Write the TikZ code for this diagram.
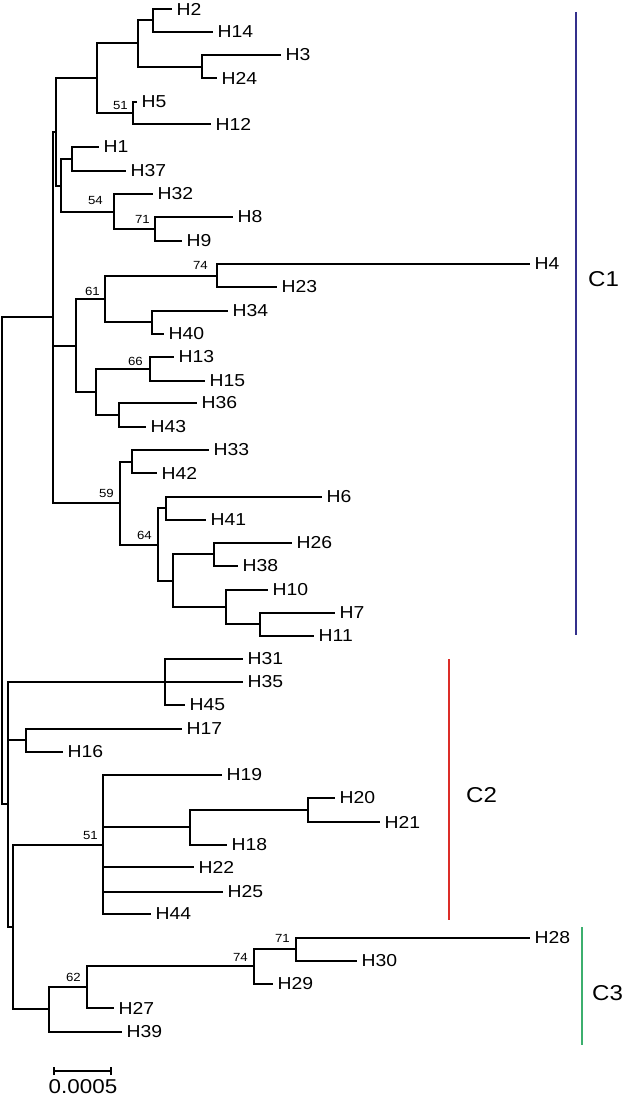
\documentclass[tikz,border=0pt]{standalone}
\usepackage{fontspec}
\newfontfamily\labfont[FakeStretch=1.12]{Liberation Sans}
\definecolor{cone}{RGB}{52,48,140}
\definecolor{ctwo}{RGB}{220,45,40}
\definecolor{cthree}{RGB}{60,175,110}
\tikzset{
  br/.style={line width=2pt, line join=miter},
  leaf/.style={anchor=west, inner xsep=4.5pt, inner ysep=0pt, font=\labfont\fontsize{17.3}{18}\selectfont},
  boot/.style={anchor=south east, inner sep=0pt, font=\labfont\fontsize{11.8}{12}\selectfont},
  clade/.style={anchor=west, inner sep=0pt, font=\labfont\fontsize{21.5}{22}\selectfont},
  cbar/.style={line width=2pt}
}
\begin{document}
\begin{tikzpicture}[x=1pt,y=-1pt]
\useasboundingbox (0,0) rectangle (622,1097);
% internal nodes
\coordinate (r) at (2,560);
\coordinate (C) at (53,317);
\coordinate (B) at (56,132);
\coordinate (A) at (97,78);
\coordinate (A1) at (138,43);
\coordinate (na) at (153,20);
\coordinate (nb) at (202,67);
\coordinate (A2) at (133,113);
\coordinate (I) at (61,186);
\coordinate (J) at (72,159);
\coordinate (K) at (114,212);
\coordinate (L) at (155,229);
\coordinate (F) at (76,346);
\coordinate (M) at (105,299);
\coordinate (O) at (217,276);
\coordinate (P) at (152,322);
\coordinate (N) at (96,392);
\coordinate (Q) at (150,369);
\coordinate (R) at (119,415);
\coordinate (G) at (120,503);
\coordinate (S) at (132,462);
\coordinate (T) at (158,545);
\coordinate (U) at (166,508);
\coordinate (V) at (173,581);
\coordinate (W) at (214,554);
\coordinate (X) at (226,607);
\coordinate (Y) at (260,624);
\coordinate (D) at (8,804);
\coordinate (Z) at (165,682);
\coordinate (AA) at (26,740);
\coordinate (E) at (13,927);
\coordinate (BB) at (103,845);
\coordinate (DD) at (190,827);
\coordinate (EE) at (308,810);
\coordinate (CC) at (49,1009);
\coordinate (FF) at (87,987);
\coordinate (GG) at (254,966);
\coordinate (HH) at (296,949);
% leaves
\node[leaf] (h2) at (172,9) {H2};
\node[leaf] (h14) at (213,32) {H14};
\node[leaf] (h3) at (281,55) {H3};
\node[leaf] (h24) at (217,78) {H24};
\node[leaf] (h5) at (137,102) {H5};
\node[leaf] (h12) at (211,124) {H12};
\node[leaf] (h1) at (99,147) {H1};
\node[leaf] (h37) at (126,171) {H37};
\node[leaf] (h32) at (153,194) {H32};
\node[leaf] (h8) at (233,217) {H8};
\node[leaf] (h9) at (182,241) {H9};
\node[leaf] (h4) at (530,264) {H4};
\node[leaf] (h23) at (277,287) {H23};
\node[leaf] (h34) at (228,311) {H34};
\node[leaf] (h40) at (164,334) {H40};
\node[leaf] (h13) at (174,357) {H13};
\node[leaf] (h15) at (205,381) {H15};
\node[leaf] (h36) at (197,403) {H36};
\node[leaf] (h43) at (146,427) {H43};
\node[leaf] (h33) at (209,450) {H33};
\node[leaf] (h42) at (157,473) {H42};
\node[leaf] (h6) at (322,497) {H6};
\node[leaf] (h41) at (206,520) {H41};
\node[leaf] (h26) at (292,543) {H26};
\node[leaf] (h38) at (238,566) {H38};
\node[leaf] (h10) at (268,590) {H10};
\node[leaf] (h7) at (335,613) {H7};
\node[leaf] (h11) at (314,636) {H11};
\node[leaf] (h31) at (243,659) {H31};
\node[leaf] (h35) at (243,682) {H35};
\node[leaf] (h45) at (185,705) {H45};
\node[leaf] (h17) at (182,729) {H17};
\node[leaf] (h16) at (63,752) {H16};
\node[leaf] (h19) at (222,775) {H19};
\node[leaf] (h20) at (335,798) {H20};
\node[leaf] (h21) at (380,822) {H21};
\node[leaf] (h18) at (227,845) {H18};
\node[leaf] (h22) at (194,867) {H22};
\node[leaf] (h25) at (223,892) {H25};
\node[leaf] (h44) at (151,914) {H44};
\node[leaf] (h28) at (530,938) {H28};
\node[leaf] (h30) at (357,961) {H30};
\node[leaf] (h29) at (273,984) {H29};
\node[leaf] (h27) at (114,1008) {H27};
\node[leaf] (h39) at (122,1032) {H39};
% branches
\draw[br] (r) |- (C);
\draw[br] (r) |- (D);
\draw[br] (C) |- (B);
\draw[br] (C) |- (F);
\draw[br] (C) |- (G);
\draw[br] (B) |- (A);
\draw[br] (B) |- (I);
\draw[br] (A) |- (A1);
\draw[br] (A) |- (A2);
\draw[br] (A1) |- (na);
\draw[br] (A1) |- (nb);
\draw[br] (na) |- (h2.west);
\draw[br] (na) |- (h14.west);
\draw[br] (nb) |- (h3.west);
\draw[br] (nb) |- (h24.west);
\draw[br] (A2) |- (h5.west);
\draw[br] (A2) |- (h12.west);
\draw[br] (I) |- (J);
\draw[br] (I) |- (K);
\draw[br] (J) |- (h1.west);
\draw[br] (J) |- (h37.west);
\draw[br] (K) |- (h32.west);
\draw[br] (K) |- (L);
\draw[br] (L) |- (h8.west);
\draw[br] (L) |- (h9.west);
\draw[br] (F) |- (M);
\draw[br] (F) |- (N);
\draw[br] (M) |- (O);
\draw[br] (M) |- (P);
\draw[br] (O) |- (h4.west);
\draw[br] (O) |- (h23.west);
\draw[br] (P) |- (h34.west);
\draw[br] (P) |- (h40.west);
\draw[br] (N) |- (Q);
\draw[br] (N) |- (R);
\draw[br] (Q) |- (h13.west);
\draw[br] (Q) |- (h15.west);
\draw[br] (R) |- (h36.west);
\draw[br] (R) |- (h43.west);
\draw[br] (G) |- (S);
\draw[br] (G) |- (T);
\draw[br] (S) |- (h33.west);
\draw[br] (S) |- (h42.west);
\draw[br] (T) |- (U);
\draw[br] (T) |- (V);
\draw[br] (U) |- (h6.west);
\draw[br] (U) |- (h41.west);
\draw[br] (V) |- (W);
\draw[br] (V) |- (X);
\draw[br] (W) |- (h26.west);
\draw[br] (W) |- (h38.west);
\draw[br] (X) |- (h10.west);
\draw[br] (X) |- (Y);
\draw[br] (Y) |- (h7.west);
\draw[br] (Y) |- (h11.west);
\draw[br] (D) |- (Z);
\draw[br] (D) |- (AA);
\draw[br] (D) |- (E);
\draw[br] (Z) |- (h31.west);
\draw[br] (Z) -- (h35.west);
\draw[br] (Z) |- (h45.west);
\draw[br] (AA) |- (h17.west);
\draw[br] (AA) |- (h16.west);
\draw[br] (E) |- (BB);
\draw[br] (E) |- (CC);
\draw[br] (BB) |- (h19.west);
\draw[br] (BB) |- (DD);
\draw[br] (BB) |- (h22.west);
\draw[br] (BB) |- (h25.west);
\draw[br] (BB) |- (h44.west);
\draw[br] (DD) |- (EE);
\draw[br] (DD) |- (h18.west);
\draw[br] (EE) |- (h20.west);
\draw[br] (EE) |- (h21.west);
\draw[br] (CC) |- (FF);
\draw[br] (CC) |- (h39.west);
\draw[br] (FF) |- (GG);
\draw[br] (FF) |- (h27.west);
\draw[br] (GG) |- (HH);
\draw[br] (GG) |- (h29.west);
\draw[br] (HH) |- (h28.west);
\draw[br] (HH) |- (h30.west);
% bootstrap values
\node[boot] (b51a) at (128,110) {51};
\node[boot] (b54) at (103,205) {54};
\node[boot] (b71a) at (150,224) {71};
\node[boot] (b74a) at (208,270) {74};
\node[boot] (b61) at (100,296) {61};
\node[boot] (b66) at (143,366) {66};
\node[boot] (b59) at (114,498) {59};
\node[boot] (b64) at (152,540) {64};
\node[boot] (b51b) at (98,840) {51};
\node[boot] (b62) at (81,982) {62};
\node[boot] (b74b) at (248,962) {74};
\node[boot] (b71b) at (290,943) {71};
% clade bars
\coordinate (c1t) at (576,12);
\coordinate (c1b) at (576,635);
\coordinate (c2t) at (449,659);
\coordinate (c2b) at (449,920);
\coordinate (c3t) at (582,927);
\coordinate (c3b) at (582,1045);
\draw[cbar, cone] (c1t) -- (c1b);
\draw[cbar, ctwo] (c2t) -- (c2b);
\draw[cbar, cthree] (c3t) -- (c3b);
\node[clade] (lc1) at (588,279) {C1};
\node[clade] (lc2) at (466,795) {C2};
\node[clade] (lc3) at (592,993) {C3};
% scale bar
\coordinate (s1) at (54,1071);
\coordinate (s2) at (111,1071);
\draw[line width=1.2pt] (s1) -- (s2);
\draw[line width=1.2pt] ([yshift=-4pt]s1) -- ([yshift=4pt]s1);
\draw[line width=1.2pt] ([yshift=-4pt]s2) -- ([yshift=4pt]s2);
\node[inner sep=0pt, font=\labfont\fontsize{20}{21}\selectfont] (sl) at (83,1086.5) {0.0005};
\end{tikzpicture}
\end{document}
